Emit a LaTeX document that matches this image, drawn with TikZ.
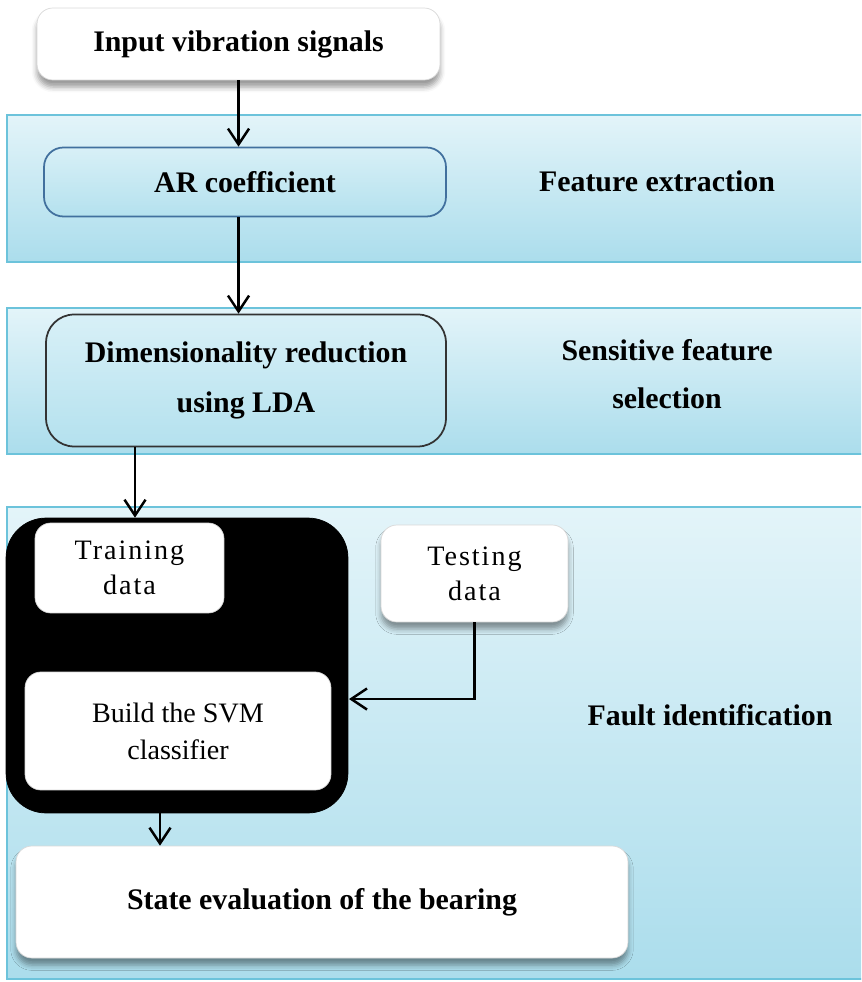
\documentclass[tikz,border=0pt]{standalone}
\usepackage{fontspec}
\setmainfont{Liberation Serif}
\usetikzlibrary{arrows.meta,shadows.blur}

\definecolor{bandtop}{HTML}{E3F4F9}
\definecolor{bandbot}{HTML}{ABDDEC}
\definecolor{bandline}{HTML}{6CC3DB}
\definecolor{arline}{HTML}{41709E}
\definecolor{boxtop}{HTML}{D8F0F7}
\definecolor{boxbot}{HTML}{B4E1EE}

\begin{document}
\begin{tikzpicture}[x=0.02cm,y=-0.02cm,
  band/.style={draw=bandline,line width=1.2pt,top color=bandtop,bottom color=bandbot},
  whitebox/.style={draw=gray!30,fill=white,rounded corners=9pt,align=center,
    blur shadow={shadow xshift=0pt,shadow yshift=-4pt,shadow blur radius=3pt}},
  bluebox/.style={line width=1pt,top color=boxtop,bottom color=boxbot,rounded corners=11pt,align=center},
  flow/.style={line width=1.4pt,-{Straight Barb[length=9pt,width=12pt,line width=1.4pt]}},
  lbl/.style={font=\fontsize{17}{27}\selectfont\bfseries,align=center},
  spaced/.style={font=\fontsize{16}{20}\selectfont\addfontfeature{LetterSpace=7}}]
\useasboundingbox (0,0) rectangle (861,982);
\clip (0,0) rectangle (861,982);

% three stages
\draw[band] (7,115) rectangle (880,262);
\draw[band] (7,308) rectangle (880,454);
\draw[band] (7,507) rectangle (880,979);

\node[lbl] (fx) at (657,181) {Feature extraction};
\node[lbl] (sel) at (667,374) {Sensitive feature\\selection};
\node[lbl] (fault) at (710,715) {Fault identification};

% boxes
\node[whitebox,minimum width=8.06cm,minimum height=1.44cm,font=\fontsize{17}{20}\selectfont\bfseries] (inp) at (238.5,44) {Input vibration signals};
\node[bluebox,draw=arline,minimum width=8.04cm,minimum height=1.38cm,font=\fontsize{17}{20}\selectfont\bfseries] (ar) at (245,182) {AR coefficient};
\node[bluebox,draw=black!80,rounded corners=16pt,minimum width=8cm,minimum height=2.64cm,font=\fontsize{17}{28}\selectfont\bfseries] (dim) at (246,380.5) {Dimensionality reduction\\using LDA};

\node[fill=black,draw=black,rounded corners=0.8cm,minimum width=6.84cm,minimum height=5.9cm] (blk) at (177,665.5) {};
\node[whitebox,minimum width=3.78cm,minimum height=1.8cm,spaced] (train) at (129.5,568) {Training\\data};
\node[whitebox,minimum width=3.74cm,minimum height=1.94cm,spaced] (test) at (474.5,573.5) {Testing\\data};
\node[whitebox,minimum width=6.12cm,minimum height=2.36cm,font=\fontsize{16}{21}\selectfont] (svm) at (178,731) {Build the SVM\\classifier};
\node[whitebox,minimum width=12.24cm,minimum height=2.24cm,font=\fontsize{17}{20}\selectfont\bfseries] (state) at (322,902) {State evaluation of the bearing};

% arrows
\coordinate (svmin) at (349,699);
\draw[flow] (inp.south) -- (inp.south |- ar.north);
\draw[flow] (inp.south |- ar.south) -- (inp.south |- dim.north);
\draw[flow] ([xshift=-2.22cm]dim.south) -- ([xshift=-2.22cm]dim.south |- blk.north);
\draw[flow] (test.south) |- (svmin);
\draw[flow] ([xshift=-0.34cm]blk.south) -- ([xshift=-0.34cm]blk.south |- state.north);
\end{tikzpicture}
\end{document}
